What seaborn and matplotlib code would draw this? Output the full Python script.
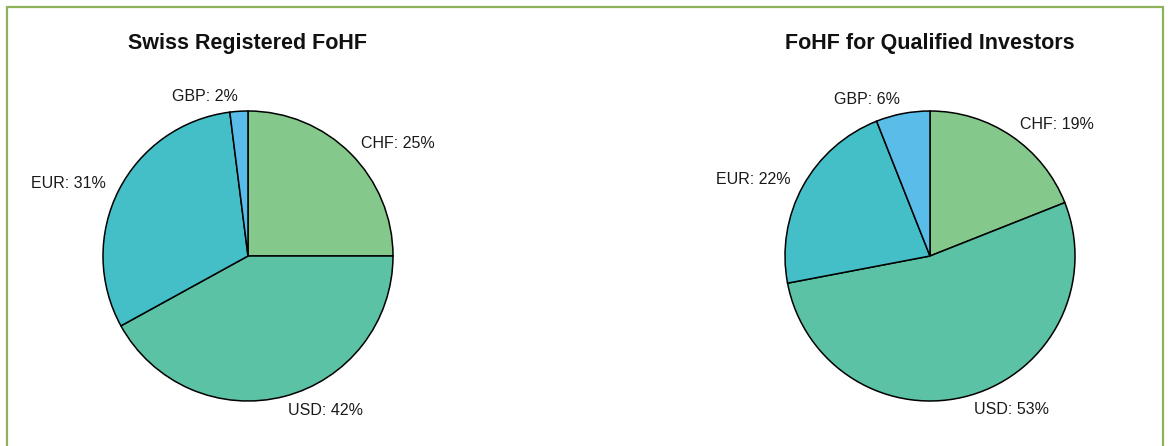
"""Currency split of Swiss FoHF: two pie charts side by side."""

import matplotlib

matplotlib.use("Agg")
import matplotlib.pyplot as plt
import seaborn as sns
from matplotlib.patches import Rectangle

sns.set_theme(style="white")
plt.rcParams["font.family"] = ["Liberation Sans", "DejaVu Sans"]

# Data
currencies = ["CHF", "USD", "EUR", "GBP"]
swiss_registered = [25, 42, 31, 2]
qualified_investors = [19, 53, 22, 6]
titles = ["Swiss Registered FoHF", "FoHF for Qualified Investors"]

colors = ["#84C98B", "#5BC2A6", "#44BFC7", "#5ABCE9"]

W, H = 1168, 446
fig = plt.figure(figsize=(W / 100, H / 100), dpi=100)
fig.patch.set_facecolor("white")

# green frame around the whole panel (open at the bottom)
fig.patches.append(
    Rectangle((6.5 / W, -0.05), (1163 - 6.5) / W, 1.05 - 6.5 / H,
              transform=fig.transFigure, fill=False,
              edgecolor="#8DB25A", linewidth=1.6)
)

radius_px = 145
centers = [(248, 256), (930, 256)]

for (cx, cy), values, title in zip(centers, [swiss_registered, qualified_investors], titles):
    ax = fig.add_axes([(cx - radius_px) / W, (H - cy - radius_px) / H,
                       2 * radius_px / W, 2 * radius_px / H])
    labels = [f"{c}: {v}%" for c, v in zip(currencies, values)]
    ax.pie(
        values,
        labels=labels,
        colors=colors,
        startangle=90,
        counterclock=False,
        labeldistance=1.1,
        wedgeprops={"edgecolor": "black", "linewidth": 1.1},
        textprops={"fontsize": 11.5, "color": "#1a1a1a"},
    )
    ax.set_xlim(-1, 1)
    ax.set_ylim(-1, 1)
    ax.set_aspect("equal")
    ax.axis("off")
    fig.text(cx / W, 1 - 43 / H, title, ha="center", va="center",
             fontsize=15.5, fontweight="bold", color="#111111")

plt.savefig("out.png", dpi=100)
plt.close()
